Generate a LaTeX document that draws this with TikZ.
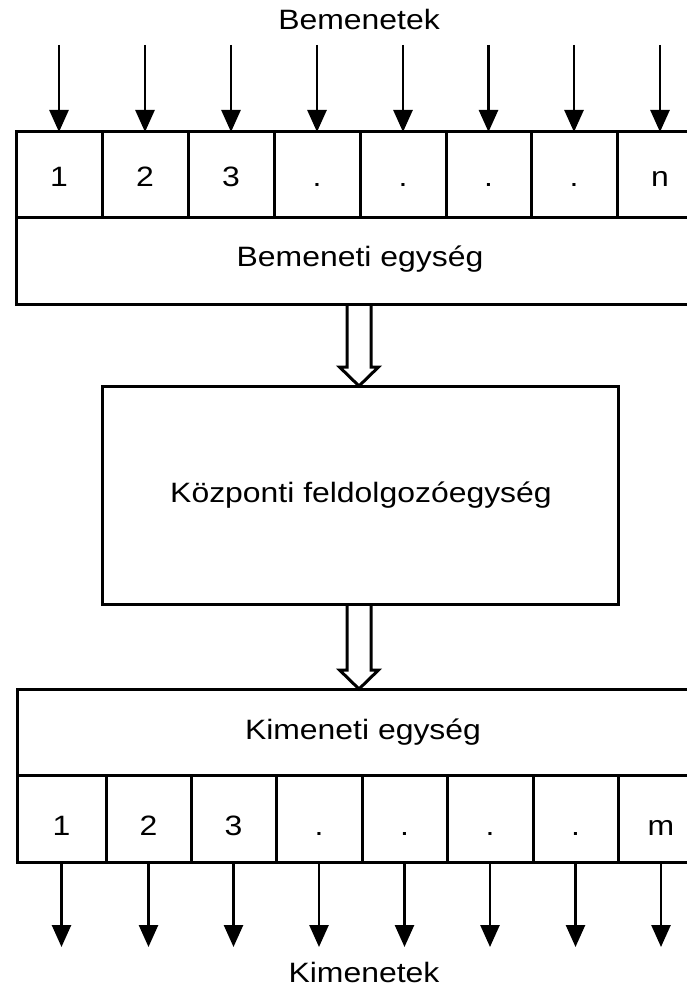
\documentclass[tikz,border=0pt]{standalone}
\usepackage{fontspec}
\setmainfont{Liberation Sans}
\usetikzlibrary{arrows.meta,calc}
% wide sans lettering used throughout the block diagram
\newcommand{\wtext}[1]{\scalebox{1.14}[1]{#1}}

\begin{document}
\begin{tikzpicture}[x=1pt,y=-1pt,
  frame/.style={draw,line width=3pt,inner sep=0pt,outer sep=0pt},
  lbl/.style={font=\fontsize{28}{33}\selectfont,inner sep=0pt,anchor=base},
  sig/.style={line width=2.6pt,-{Triangle[width=19pt,length=22pt]}},
  bus/.style={line width=3pt,line join=miter}]
\useasboundingbox (0,0) rectangle (687,992);
\clip (0,0) rectangle (687,992);

% ---- input side ----
\node[lbl] (inputs) at (359,30) {\wtext{Bemenetek}};
\foreach \l/\r/\t [count=\i] in {16/102/1,102/188/2,188/274/3,274/360/{.},
                                 360/446/{.},446/531/{.},531/617/{.},617/703/n} {
  \node[frame,minimum width={(\r-\l)*1pt},minimum height=86pt]
    (in\i) at ({(\l+\r)/2},175) {};
  \node[lbl] (inl\i) at ($(in\i.center)+(0,12)$) {\wtext{\t}};
  \coordinate (src\i) at ($(in\i.north)+(0,-87)$);
  \draw[sig] (src\i) -- (in\i.north);
}
\node[frame,minimum width=687pt,minimum height=86pt] (inunit) at (359.5,261) {};
\node[lbl] (inunitl) at (360,266) {\wtext{Bemeneti egység}};

% ---- central processing unit ----
\node[frame,minimum width=516pt,minimum height=218pt] (cpu) at (360,495) {};
\node[lbl] (cpul) at (361,502) {\wtext{Központi feldolgozóegység}};

% ---- output side ----
\node[frame,minimum width=687pt,minimum height=86pt] (outunit) at (360.5,732) {};
\node[lbl] (outunitl) at (363,739) {\wtext{Kimeneti egység}};
\foreach \l/\r/\t [count=\i] in {17/106/1,106/191/2,191/276/3,276/362/{.},
                                 362/447/{.},447/533/{.},533/618/{.},618/704/m} {
  \node[frame,minimum width={(\r-\l)*1pt},minimum height=87pt]
    (out\i) at ({(\l+\r)/2},818.5) {};
  \node[lbl] (outl\i) at ($(out\i.center)+(0,17)$) {\wtext{\t}};
  \coordinate (dst\i) at ($(out\i.south)+(0,85)$);
  \draw[sig] (out\i.south) -- (dst\i);
}
\node[lbl] (outputs) at (364,982) {\wtext{Kimenetek}};

% ---- hollow bus arrows ----
\coordinate (busx) at (359,0);
\path (inunit.south -| busx) coordinate (b1s) (cpu.north -| busx) coordinate (b1e);
\draw[bus] ($(b1s)+(-12,0)$) -- ($(b1e)+(-12,-19)$) -- ($(b1e)+(-19.5,-19)$)
  -- (b1e) -- ($(b1e)+(19.5,-19)$) -- ($(b1e)+(12,-19)$) -- ($(b1s)+(12,0)$);
\path (cpu.south -| busx) coordinate (b2s) (outunit.north -| busx) coordinate (b2e);
\draw[bus] ($(b2s)+(-12,0)$) -- ($(b2e)+(-12,-19)$) -- ($(b2e)+(-19.5,-19)$)
  -- (b2e) -- ($(b2e)+(19.5,-19)$) -- ($(b2e)+(12,-19)$) -- ($(b2s)+(12,0)$);
\end{tikzpicture}
\end{document}
